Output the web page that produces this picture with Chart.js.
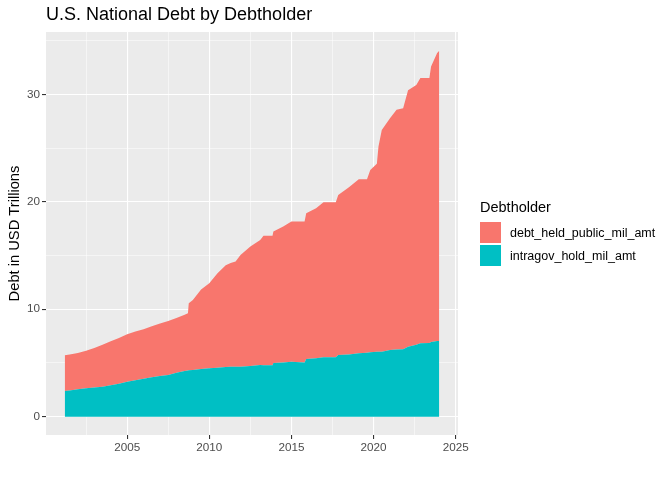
<!DOCTYPE html>
<html>
<head>
<meta charset="utf-8">
<script src="https://cdn.jsdelivr.net/npm/chart.js@4"></script>
<style>
  body { margin: 0; background: #fff; font-family: "Liberation Sans", Arial, sans-serif; }
  #wrap { position: relative; width: 672px; height: 480px; }
  #chart { position: absolute; left: 0; top: 0; }
  #title { position: absolute; left: 46px; top: 4px; font-size: 18px; color: #000; white-space: nowrap; }
  #legend { position: absolute; left: 480px; top: 199px; font-size: 12.5px; color: #000; }
  #legend .lt { font-size: 14.5px; margin-bottom: 6px; }
  #legend .row { display: flex; align-items: center; height: 23px; }
  #legend .key { width: 21px; height: 21px; margin-right: 9px; }
</style>
</head>
<body>
<div id="wrap">
  <canvas id="chart" width="672" height="480"></canvas>
  <div id="title">U.S. National Debt by Debtholder</div>
  <div id="legend"></div>
</div>
<script>
// Debt by holder, trillions USD
const years = [2001.2, 2001.5, 2002.0, 2002.5, 2003.0, 2003.5, 2004.0, 2004.5, 2005.0, 2005.5,
  2006.0, 2006.5, 2007.0, 2007.5, 2008.0, 2008.5, 2008.7, 2008.75, 2009.0, 2009.25,
  2009.5, 2010.0, 2010.5, 2011.0, 2011.3, 2011.6, 2011.9, 2012.5, 2013.1, 2013.3,
  2013.85, 2013.9, 2014.5, 2015.0, 2015.8, 2015.9, 2016.5, 2016.95, 2017.7, 2017.85,
  2018.5, 2019.1, 2019.6, 2019.8, 2020.2, 2020.3, 2020.5, 2021.0, 2021.4, 2021.8,
  2022.1, 2022.6, 2022.85, 2023.4, 2023.5, 2023.87, 2024.0];
const intragov = [2.39, 2.45, 2.55, 2.64, 2.72, 2.80, 2.92, 3.07, 3.26, 3.40,
  3.54, 3.68, 3.80, 3.88, 4.10, 4.25, 4.30, 4.33, 4.35, 4.40,
  4.45, 4.52, 4.56, 4.62, 4.64, 4.64, 4.66, 4.72, 4.81, 4.80,
  4.80, 5.00, 5.05, 5.12, 5.05, 5.37, 5.45, 5.53, 5.53, 5.74,
  5.80, 5.90, 5.95, 6.00, 6.05, 6.05, 6.05, 6.21, 6.25, 6.27,
  6.52, 6.70, 6.83, 6.85, 6.95, 7.05, 7.05];
const publicDebt = [3.33, 3.33, 3.37, 3.51, 3.68, 3.90, 4.10, 4.26, 4.41, 4.52,
  4.61, 4.74, 4.88, 5.03, 5.08, 5.25, 5.33, 6.22, 6.52, 6.95,
  7.40, 7.90, 8.79, 9.48, 9.66, 9.81, 10.40, 11.11, 11.64, 12.03,
  12.03, 12.23, 12.65, 13.04, 13.11, 13.57, 13.95, 14.43, 14.43, 14.90,
  15.55, 16.20, 16.15, 16.97, 17.48, 19.09, 20.64, 21.57, 22.31, 22.44,
  23.87, 24.16, 24.68, 24.66, 25.64, 26.79, 27.00];
const seriesNames = ['debt_held_public_mil_amt', 'intragov_hold_mil_amt'];
const xTicks = [2002.5, 2005, 2007.5, 2010, 2012.5, 2015, 2017.5, 2020, 2022.5, 2025];
const yTicks = [0, 5, 10, 15, 20, 25, 30, 35];

const colors = { public: '#F8766D', intragov: '#00BFC4' };
const isMajorX = v => v % 5 === 0;
const isMajorY = v => v % 10 === 0;

// gray panel behind the plot
const panelBg = {
  id: 'panelBg',
  beforeDraw(chart) {
    const a = chart.chartArea, ctx = chart.ctx;
    ctx.save();
    ctx.fillStyle = '#EBEBEB';
    ctx.fillRect(a.left, a.top, a.right - a.left, a.bottom - a.top);
    ctx.restore();
  }
};

new Chart(document.getElementById('chart'), {
  type: 'line',
  data: {
    datasets: [
      {
        label: seriesNames[1],
        data: years.map((x, i) => ({ x, y: intragov[i] })),
        backgroundColor: colors.intragov,
        borderWidth: 0, pointRadius: 0, fill: 'origin'
      },
      {
        label: seriesNames[0],
        data: years.map((x, i) => ({ x, y: publicDebt[i] })),
        backgroundColor: colors.public,
        borderWidth: 0, pointRadius: 0, fill: '-1'
      }
    ]
  },
  options: {
    responsive: false,
    animation: false,
    events: [],
    layout: { padding: { left: 0, top: 32, right: 214, bottom: 0 } },
    plugins: { legend: { display: false }, tooltip: { enabled: false } },
    scales: {
      x: {
        type: 'linear',
        min: 2000.06, max: 2025.14,
        afterBuildTicks: s => { s.ticks = xTicks.map(v => ({ value: v })); },
        afterFit: s => { s.height = 45; },
        border: { display: false },
        grid: {
          color: '#FFFFFF',
          lineWidth: c => isMajorX(c.tick.value) ? 1.1 : 0.5,
          tickColor: c => isMajorX(c.tick.value) ? '#333333' : 'rgba(0,0,0,0)',
          tickLength: 4
        },
        ticks: {
          autoSkip: false, maxRotation: 0, padding: 2,
          color: '#4D4D4D', font: { family: 'Liberation Sans', size: 11.7 },
          callback: v => isMajorX(v) ? String(v) : ''
        }
      },
      y: {
        type: 'linear',
        stacked: true,
        min: -1.7, max: 35.8,
        afterBuildTicks: s => { s.ticks = yTicks.map(v => ({ value: v })); },
        afterFit: s => { s.width = 46; },
        border: { display: false },
        grid: {
          color: '#FFFFFF',
          lineWidth: c => isMajorY(c.tick.value) ? 1.1 : 0.5,
          tickColor: c => isMajorY(c.tick.value) ? '#333333' : 'rgba(0,0,0,0)',
          tickLength: 4
        },
        ticks: {
          padding: 2,
          color: '#4D4D4D', font: { family: 'Liberation Sans', size: 11.7 },
          callback: v => isMajorY(v) ? String(v) : ''
        },
        title: {
          display: true, text: 'Debt in USD Trillions',
          color: '#000', font: { family: 'Liberation Sans', size: 14.7 },
          padding: { top: 6, bottom: 0 }
        }
      }
    }
  },
  plugins: [panelBg]
});

// legend, ggplot order: public on top
const legend = document.getElementById('legend');
legend.innerHTML = '<div class="lt">Debtholder</div>' +
  seriesNames.map((n, i) =>
    `<div class="row"><div class="key" style="background:${i === 0 ? colors.public : colors.intragov}"></div>${n}</div>`
  ).join('');
</script>
</body>
</html>
